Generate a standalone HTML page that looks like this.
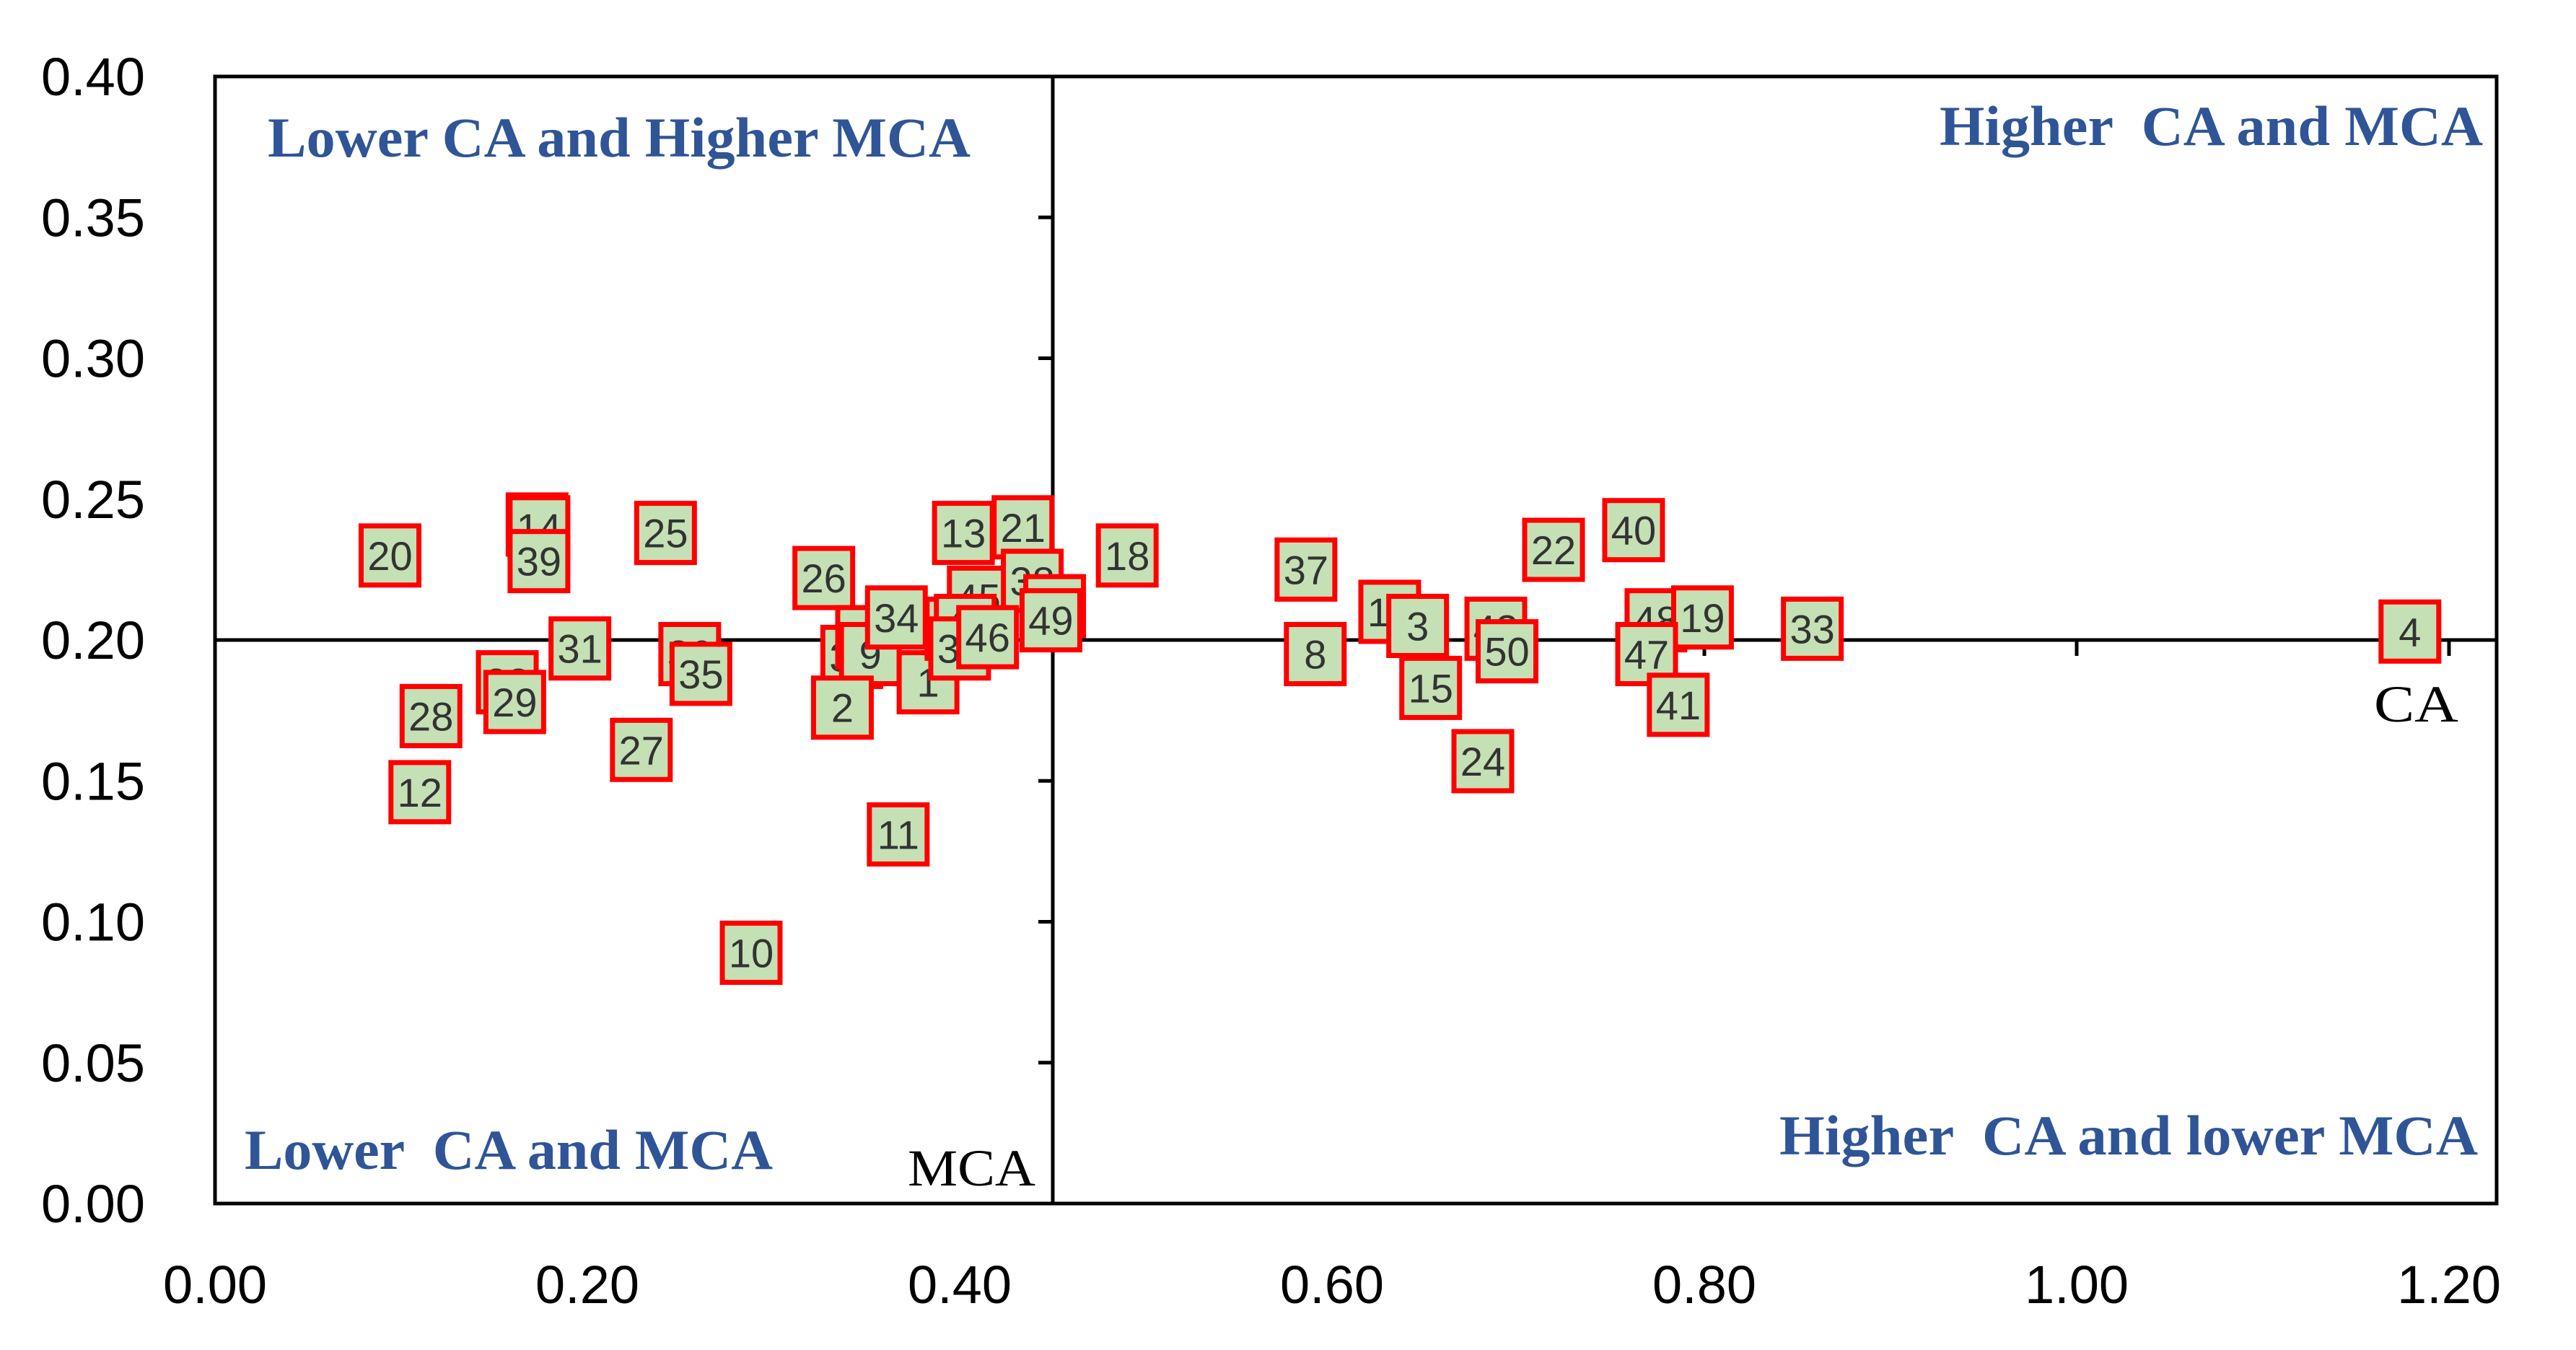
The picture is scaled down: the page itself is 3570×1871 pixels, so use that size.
<!DOCTYPE html>
<html><head><meta charset="utf-8"><style>
html,body{margin:0;padding:0;background:#fff;}
svg{display:block;}
text{white-space:pre;}
</style></head><body>
<svg id="chart" width="3570" height="1871" viewBox="0 0 3570 1871" xmlns="http://www.w3.org/2000/svg">
<rect x="0" y="0" width="3570" height="1871" fill="#fff"/>
<g id="axes"></g>
<g id="marks"></g>
<g id="labels"></g>
</svg>
<script>
const labels = ["20","16","14","39","25","31","36","35","23","29","28","12","27","26","30","5","9","34","2","1","11","10","13","21","45","38","7","49","44","42","32","46","18","37","8","17","3","15","43","50","24","22","40","48","19","47","41","33","4"];
const caValues = [0.094,0.173,0.174,0.174,0.242,0.196,0.255,0.261,0.157,0.161,0.116,0.110,0.229,0.327,0.342,0.350,0.352,0.366,0.337,0.383,0.367,0.288,0.402,0.434,0.410,0.439,0.451,0.449,0.398,0.403,0.400,0.415,0.490,0.586,0.591,0.631,0.646,0.653,0.688,0.694,0.681,0.719,0.762,0.774,0.799,0.769,0.786,0.858,1.179];
const mcaValues = [0.230,0.241,0.240,0.228,0.238,0.197,0.195,0.188,0.185,0.178,0.173,0.146,0.161,0.222,0.194,0.201,0.195,0.208,0.176,0.185,0.131,0.089,0.238,0.240,0.215,0.221,0.212,0.207,0.204,0.205,0.197,0.201,0.230,0.225,0.195,0.210,0.205,0.183,0.204,0.196,0.157,0.232,0.239,0.207,0.208,0.195,0.177,0.204,0.203];
const xTicks = [0,0.2,0.4,0.6,0.8,1.0,1.2];
const xTickLabels = ["0.00","0.20","0.40","0.60","0.80","1.00","1.20"];
const yTicks = [0,0.05,0.1,0.15,0.2,0.25,0.3,0.35,0.4];
const yTickLabels = ["0.00","0.05","0.10","0.15","0.20","0.25","0.30","0.35","0.40"];
const xCross = 0.45, yCross = 0.20;

const NS="http://www.w3.org/2000/svg";
const X0=298, XS=2580, Y0=1668, YS=3905, RIGHT=3460, TOP=106;
const sx=v=>X0+v*XS, sy=v=>Y0-v*YS;
function mk(tag,attrs,parent,txt){const e=document.createElementNS(NS,tag);for(const k in attrs)e.setAttribute(k,attrs[k]);if(txt!==undefined)e.textContent=txt;parent.appendChild(e);return e;}
const axes=document.getElementById('axes'),marks=document.getElementById('marks'),lab=document.getElementById('labels');

let fr=mk('rect',{x:X0,y:TOP,width:RIGHT-X0,height:Y0-TOP,fill:'none',stroke:'#000','stroke-width':5},axes);


let vl=mk('line',{x1:sx(xCross),x2:sx(xCross),y1:TOP,y2:Y0,stroke:'#000','stroke-width':5},axes);


let hl=mk('line',{x1:X0,x2:RIGHT,y1:sy(yCross),y2:sy(yCross),stroke:'#000','stroke-width':5},axes);



yTicks.forEach((v,i)=>{
  let t=mk('line',{x1:sx(xCross)-20,x2:sx(xCross),y1:sy(v),y2:sy(v),stroke:'#000','stroke-width':5},axes);
  
  
  let l=mk('text',{x:201,y:sy(v)+26,'text-anchor':'end','font-family':'Liberation Sans, sans-serif','font-size':74,fill:'#000'},lab,yTickLabels[i]);
  
  
});
xTicks.forEach((v,i)=>{
  if(v>0&&v<1.21){
    let t=mk('line',{x1:sx(v),x2:sx(v),y1:sy(yCross),y2:sy(yCross)+22,stroke:'#000','stroke-width':5},axes);
    
    
  }
  let l=mk('text',{x:sx(v),y:1806,'text-anchor':'middle','font-family':'Liberation Sans, sans-serif','font-size':74,fill:'#000'},lab,xTickLabels[i]);
  
  
});

labels.forEach((n,i)=>{
  const cx=sx(caValues[i]),cy=sy(mcaValues[i]);
  let g=mk('g',{},marks);
  
  
  mk('rect',{x:cx-40,y:cy-41,width:80,height:82,fill:'#c5e0b4',stroke:'#ff0000','stroke-width':7},g);
  mk('text',{x:cx,y:cy+20,'text-anchor':'middle','font-family':'Liberation Sans, sans-serif','font-size':56,fill:'#333'},g,n);
});

const q=[["Lower CA and Higher MCA",371,217,974,'quadrant-top-left'],["Higher  CA and MCA",2688,201,753,'quadrant-top-right'],["Lower  CA and MCA",339,1620,732,'quadrant-bottom-left'],["Higher  CA and lower MCA",2466,1600,968,'quadrant-bottom-right']];
q.forEach(a=>{
  let t=mk('text',{x:a[1],y:a[2],textLength:a[3],lengthAdjust:'spacingAndGlyphs','font-family':'Liberation Serif, serif','font-weight':'bold','font-size':78,fill:'#2f5597'},lab,a[0]);
  
  
});
let m=mk('text',{x:1258,y:1643,textLength:177,lengthAdjust:'spacingAndGlyphs','font-family':'Liberation Serif, serif','font-size':72,fill:'#000'},lab,"MCA");


let c=mk('text',{x:3290,y:1000,textLength:117,lengthAdjust:'spacingAndGlyphs','font-family':'Liberation Serif, serif','font-size':72,fill:'#000'},lab,"CA");


</script>
</body></html>
